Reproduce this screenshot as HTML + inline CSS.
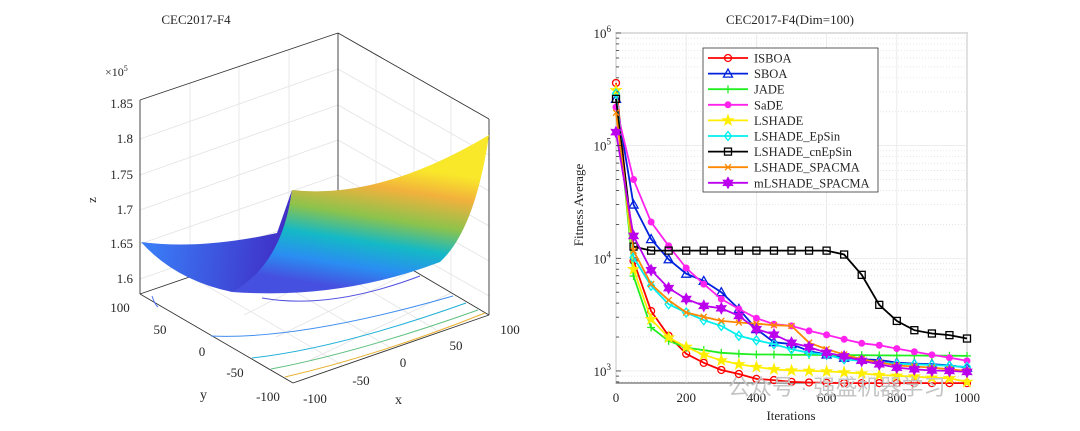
<!DOCTYPE html>
<html><head><meta charset="utf-8"><style>
html,body{margin:0;padding:0;background:#fff;width:1080px;height:431px;overflow:hidden}
text{font-family:"Liberation Serif",serif;fill:#262626}
</style></head><body>
<svg width="1080" height="431" viewBox="0 0 1080 431" xmlns="http://www.w3.org/2000/svg">
<defs>
<linearGradient id="surfGrad" gradientUnits="userSpaceOnUse" x1="390" y1="165" x2="370" y2="292">
<stop offset="0" stop-color="#f9e72a"/><stop offset="0.18" stop-color="#f2b13c"/>
<stop offset="0.42" stop-color="#8cc34c"/><stop offset="0.62" stop-color="#14b9c6"/>
<stop offset="0.82" stop-color="#2a8df2"/><stop offset="1" stop-color="#4650e0"/>
</linearGradient>
<linearGradient id="blueGrad" gradientUnits="userSpaceOnUse" x1="150" y1="245" x2="280" y2="260">
<stop offset="0" stop-color="#3a7cf6"/><stop offset="1" stop-color="#4030c8"/>
</linearGradient>
</defs>

<!-- LEFT 3D PLOT -->
<g>
<text x="196" y="24" font-size="13" text-anchor="middle">CEC2017-F4</text>
<g stroke="#e3e3e3" stroke-width="0.8" fill="none">
<line x1="140" y1="139" x2="338" y2="69"/><line x1="140" y1="175" x2="338" y2="105"/>
<line x1="140" y1="210" x2="338" y2="140"/><line x1="140" y1="244" x2="338" y2="175"/>
<line x1="140" y1="279" x2="338" y2="210"/>
<line x1="338" y1="69" x2="489" y2="155"/><line x1="338" y1="105" x2="489" y2="191"/>
<line x1="338" y1="140" x2="489" y2="226"/><line x1="338" y1="175" x2="489" y2="261"/>
<line x1="338" y1="210" x2="489" y2="296"/>
<line x1="190" y1="83" x2="190" y2="276"/><line x1="239" y1="65" x2="239" y2="259"/><line x1="289" y1="50" x2="289" y2="243"/>
<line x1="376" y1="55" x2="376" y2="248"/><line x1="414" y1="76" x2="414" y2="270"/><line x1="451" y1="98" x2="451" y2="293"/>
<line x1="190" y1="276" x2="342" y2="365"/><line x1="239" y1="259" x2="391" y2="348"/><line x1="289" y1="243" x2="440" y2="332"/>
<line x1="376" y1="248" x2="244" y2="315"/><line x1="414" y1="270" x2="276" y2="337"/><line x1="451" y1="293" x2="310" y2="360"/>
</g>
<g stroke="#333" stroke-width="0.9" fill="none">
<line x1="140" y1="100" x2="338" y2="33"/><line x1="338" y1="33" x2="489" y2="119"/>
<line x1="338" y1="33" x2="338" y2="226"/><line x1="489" y1="119" x2="489" y2="315"/>
<line x1="140" y1="100" x2="140" y2="294"/>
<line x1="140" y1="294" x2="293" y2="383"/><line x1="293" y1="383" x2="489" y2="315"/>
<line x1="140" y1="294" x2="338" y2="226"/><line x1="338" y1="226" x2="489" y2="315"/>
</g>
<g fill="none" stroke-width="1">
<path d="M152 296 Q155 305 158 307" stroke="#4a70f0"/>
<path d="M262 298 Q330 310 420 276" stroke="#5050e0"/>
<path d="M211 336 Q300 340 453 296" stroke="#3f8ef0"/>
<path d="M252 358 Q340 348 466 303" stroke="#20b0d8"/>
<path d="M271 369 Q360 352 478 310" stroke="#60c080"/>
<path d="M285 377 Q380 355 485 313" stroke="#e8b030"/>
</g>
<path d="M141 242 Q200 250 277 233 L292 190 Q282 270 232 292 Q175 280 141 242 Z" fill="url(#blueGrad)"/>
<path d="M292 190 Q380 200 489 135 Q475 230 440 262 Q340 300 232 292 Q282 265 292 190 Z" fill="url(#surfGrad)"/>
<g font-size="13" text-anchor="end">
<text x="133" y="108">1.85</text><text x="133" y="143">1.8</text><text x="133" y="179">1.75</text>
<text x="133" y="214">1.7</text><text x="133" y="248">1.65</text><text x="133" y="283">1.6</text>
</g>
<text x="105" y="76" font-size="12">×10<tspan font-size="8" dy="-5">5</tspan></text>
<text x="96" y="200" font-size="13" transform="rotate(-90 96 200)" text-anchor="middle">z</text>
<g font-size="13" text-anchor="middle">
<text x="120" y="312">100</text><text x="160" y="334">50</text><text x="202" y="356">0</text>
<text x="235" y="377">-50</text><text x="268" y="401">-100</text>
</g>
<text x="200" y="399" font-size="14">y</text>
<g font-size="13" text-anchor="middle">
<text x="315" y="403">-100</text><text x="361" y="385">-50</text><text x="403" y="367">0</text>
<text x="456" y="350">50</text><text x="510" y="334">100</text>
</g>
<text x="395" y="404" font-size="14">x</text>
</g>

<!-- RIGHT CONVERGENCE CHART -->
<g id="chart">
<text x="790" y="24" font-size="13" text-anchor="middle">CEC2017-F4(Dim=100)</text>
<rect x="616" y="33" width="351" height="350" fill="#fff" stroke="#333" stroke-width="0.9"/>
<g id="grid"></g><g id="series"></g><g id="ticks"></g>
<text x="583" y="205" font-size="13" transform="rotate(-90 583 205)" text-anchor="middle">Fitness Average</text>
<text x="791" y="420" font-size="13" text-anchor="middle">Iterations</text>
<g id="legend"></g>
</g>
<text x="728" y="395" font-size="22" fill="#bbb" style="fill:#c4c4c4;font-family:'Liberation Sans','Noto Sans CJK SC',sans-serif">公众号 · 强盛机器学习</text>
</svg>
<script>
const iters=[0,50,100,150,200,250,300,350,400,450,500,550,600,650,700,750,800,850,900,950,1000];
const names=["ISBOA","SBOA","JADE","SaDE","LSHADE","LSHADE_EpSin","LSHADE_cnEpSin","LSHADE_SPACMA","mLSHADE_SPACMA"];
const colors=["#ff0000","#0022dd","#22ee22","#ff22ee","#ffee00","#00eeee","#000000","#ff8800","#bb00ee"];
const markers=["circle","triangle","plus","dot","star","diamond","square","x","hex"];
const isboa=[360000,9500,3400,2050,1420,1180,1020,940,850,830,800,790,785,780,780,780,780,780,780,780,780];
const sboa=[260000,30000,14800,9800,7300,6300,5000,3550,2350,1800,1730,1500,1400,1310,1270,1250,1185,1160,1150,1120,1070];
const jade=[290000,6950,2430,1850,1610,1530,1450,1420,1400,1400,1390,1390,1385,1380,1380,1375,1370,1370,1365,1365,1360];
const sade=[220000,50000,21000,12900,8200,5900,4350,3550,2940,2600,2510,2270,2090,1910,1760,1690,1580,1480,1390,1310,1230];
const lshade=[310000,8000,2880,1980,1630,1390,1240,1145,1085,1035,1010,1000,990,970,950,920,905,890,870,860,800];
const epsin=[290000,10200,5700,3910,3300,2820,2510,2050,1870,1730,1560,1450,1390,1270,1230,1190,1160,1146,1130,1110,1085];
const cnepsin=[260000,12700,11700,11700,11700,11700,11700,11700,11700,11700,11700,11700,11700,10800,7130,3860,2780,2300,2150,2080,1940];
const spacma=[196000,11700,5900,4250,3300,3020,2780,2690,2630,2550,2510,1780,1560,1400,1270,1190,1120,1095,1070,1035,1000];
const mspacma=[132000,15800,7850,5440,4350,3780,3600,3080,2350,2100,1780,1630,1450,1350,1230,1145,1070,1035,1010,1000,980];
const allSeries=[isboa,sboa,jade,sade,lshade,epsin,cnepsin,spacma,mspacma];
const xTicks=[0,200,400,600,800,1000];
const yDecades=[3,4,5,6];

const NS="http://www.w3.org/2000/svg";
const X0=616,X1=967,YT=33,YB=383,LMAX=6,LMIN=2.893;
const xs=v=>X0+(v-0)/(1000-0)*(X1-X0);
const ys=v=>YT+(LMAX-Math.log10(v))/(LMAX-LMIN)*(YB-YT);
function mk(tag,attrs,parent){const e=document.createElementNS(NS,tag);for(const k in attrs)e.setAttribute(k,attrs[k]);parent.appendChild(e);return e;}
const grid=document.getElementById('grid'),ser=document.getElementById('series'),tk=document.getElementById('ticks'),leg=document.getElementById('legend');

// minor grid
for(let d=2;d<=6;d++){for(let m=1;m<10;m++){const v=m*Math.pow(10,d);if(v<Math.pow(10,LMIN)||v>1e6)continue;
 const y=ys(v);const l=mk('line',{x1:X0,x2:X1,y1:y,y2:y,stroke:m===1?'#e6e6e6':'#dcdcdc','stroke-width':0.7,'stroke-dasharray':m===1?'':'1,2'},grid);
 
 
 mk('line',{x1:X0,x2:X0+(m===1?5:3),y1:y,y2:y,stroke:'#333','stroke-width':0.8},tk);}}
xTicks.forEach(t=>{const x=xs(t);
 const l=mk('line',{x1:x,x2:x,y1:YT,y2:YB,stroke:'#e6e6e6','stroke-width':0.8},grid);
 
 
 const tx=mk('text',{x:x,y:YB+19,'font-size':13,'text-anchor':'middle'},tk);tx.textContent=t;
 
 });
yDecades.forEach(d=>{const y=ys(Math.pow(10,d));
 const tx=mk('text',{x:X0-5,y:y+5,'font-size':13,'text-anchor':'end'},tk);
 tx.innerHTML='10<tspan font-size="9" dy="-6">'+d+'</tspan>';
 
 });

function marker(type,x,y,c,parent){let e;const s=3.5;
 if(type==='circle')e=mk('circle',{cx:x,cy:y,r:s,fill:'none',stroke:c,'stroke-width':1.3},parent);
 else if(type==='dot')e=mk('circle',{cx:x,cy:y,r:3,fill:c,stroke:c},parent);
 else if(type==='triangle')e=mk('polygon',{points:`${x},${y-4.5} ${x-4.5},${y+3.5} ${x+4.5},${y+3.5}`,fill:'none',stroke:c,'stroke-width':1.3},parent);
 else if(type==='square')e=mk('rect',{x:x-3.5,y:y-3.5,width:7,height:7,fill:'none',stroke:c,'stroke-width':1.3},parent);
 else if(type==='diamond')e=mk('polygon',{points:`${x},${y-4.5} ${x+3.5},${y} ${x},${y+4.5} ${x-3.5},${y}`,fill:'none',stroke:c,'stroke-width':1.3},parent);
 else if(type==='plus')e=mk('path',{d:`M${x-4} ${y}H${x+4}M${x} ${y-4}V${y+4}`,stroke:c,'stroke-width':1.3},parent);
 else if(type==='x')e=mk('path',{d:`M${x-3} ${y-3}L${x+3} ${y+3}M${x-3} ${y+3}L${x+3} ${y-3}`,stroke:c,'stroke-width':1.3},parent);
 else if(type==='star'){let p=[];for(let i=0;i<10;i++){const r=i%2?2.2:5.5,a=-Math.PI/2+i*Math.PI/5;p.push((x+r*Math.cos(a)).toFixed(1)+','+(y+r*Math.sin(a)).toFixed(1));}
  e=mk('polygon',{points:p.join(' '),fill:c,stroke:c},parent);}
 else {let p=[];for(let i=0;i<12;i++){const r=i%2?3:5.5,a=-Math.PI/2+i*Math.PI/6;p.push((x+r*Math.cos(a)).toFixed(1)+','+(y+r*Math.sin(a)).toFixed(1));}
  e=mk('polygon',{points:p.join(' '),fill:c,stroke:c},parent);}
 return e;}

allSeries.forEach((vals,si)=>{const c=colors[si];
 const g=mk('g',{},ser);
 
 
 const pts=vals.map((v,i)=>xs(iters[i]).toFixed(1)+','+ys(v).toFixed(1)).join(' ');
 const pl=mk('polyline',{points:pts,fill:'none',stroke:c,'stroke-width':1.8},g);
 
 
 vals.forEach((v,i)=>{const m=marker(markers[si],xs(iters[i]),ys(v),c,g);
  
  });
});

// legend
const lb=mk('rect',{x:703,y:48,width:175,height:144,fill:'#fff',stroke:'#333','stroke-width':0.8},leg);


names.forEach((n,i)=>{const y=58+i*15.6;
 const g=mk('g',{},leg);
 
 
 mk('line',{x1:708,x2:748,y1:y,y2:y,stroke:colors[i],'stroke-width':1.8},g);
 marker(markers[i],728,y,colors[i],g);
 const t=mk('text',{x:754,y:y+4.5,'font-size':12.5},g);t.textContent=n;});
</script>
</body></html>
